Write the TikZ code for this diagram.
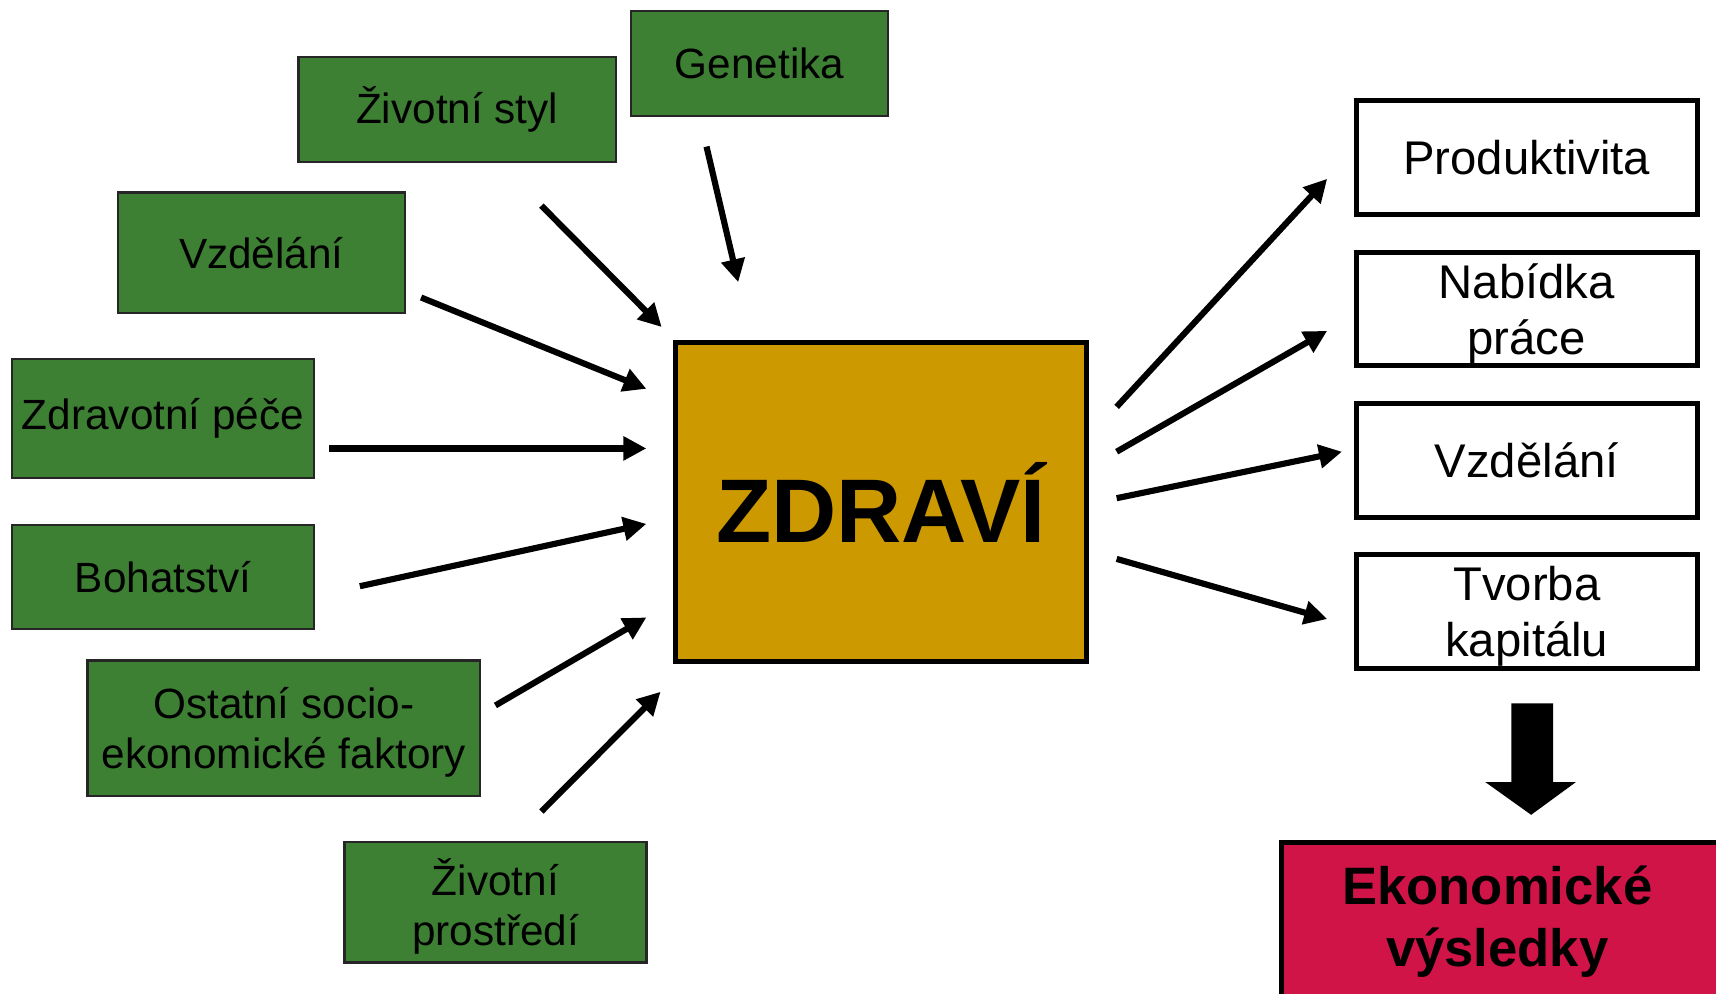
\documentclass[tikz,border=0pt]{standalone}
\usepackage{fontspec}
\setmainfont{Liberation Sans}
\usetikzlibrary{arrows.meta}

\definecolor{zelena}{RGB}{61,128,51}
\definecolor{zlata}{RGB}{204,153,0}
\definecolor{cervena}{RGB}{209,20,72}

\tikzset{
  faktor/.style={draw=black!85, line width=0.6pt, fill=zelena, inner sep=0pt, align=center, font=\fontsize{11}{13}\selectfont},
  vysledek/.style={draw, line width=1.3pt, fill=white, inner sep=0pt, minimum width=3.12cm, minimum height=1.04cm, align=center, font=\fontsize{12.3}{14.5}\selectfont},
  dvoradek/.style={text depth=0pt},
  sipka/.style={line width=1.6pt, -{Triangle[length=0.21cm,width=0.21cm]}}
}

\begin{document}
\begin{tikzpicture}[y=-1cm]
\useasboundingbox (0,0) rectangle (15.69,9.08);

\node[faktor, minimum width=2.35cm, minimum height=0.96cm] (genetika) at (6.945,0.58) {Genetika};
\node[faktor, minimum width=2.90cm, minimum height=0.96cm] (styl) at (4.18,1.00) {Životní styl};
\node[faktor, minimum width=2.62cm, minimum height=1.10cm] (vzdelani) at (2.39,2.31) {Vzdělání};
\node[faktor, minimum width=2.76cm, minimum height=1.09cm] (pece) at (1.49,3.825) {Zdravotní péče};
\node[faktor, minimum width=2.76cm, minimum height=0.95cm] (bohatstvi) at (1.49,5.275) {Bohatství};
\node[faktor, dvoradek, minimum width=3.59cm, minimum height=1.24cm] (ostatni) at (2.595,6.66) {Ostatní socio-\\ekonomické faktory};
\node[faktor, dvoradek, minimum width=2.76cm, minimum height=1.10cm] (prostredi) at (4.53,8.25) {Životní\\prostředí};

\node[draw, line width=1.3pt, fill=zlata, minimum width=3.75cm, minimum height=2.92cm, font=\fontsize{23.5}{28}\selectfont\bfseries] (zdravi) at (8.055,4.59) {ZDRAVÍ};

\node[vysledek] (produktivita) at (13.96,1.44) {Produktivita};
\node[vysledek, dvoradek] (nabidka) at (13.96,2.825) {Nabídka\\práce};
\node[vysledek] (vzdelani2) at (13.96,4.21) {Vzdělání};
\node[vysledek, dvoradek] (kapital) at (13.96,5.59) {Tvorba\\kapitálu};

\node[draw, line width=1.3pt, fill=cervena, minimum width=4.1cm, minimum height=1.45cm] (ekonomika) at (13.77,8.425) {};
\node[align=center, font=\fontsize{13.7}{16.2}\selectfont\bfseries] (ekonomikatext) at (13.69,8.43) {Ekonomické\\výsledky};

\coordinate (genetika-od) at (6.46,1.34);
\coordinate (genetika-do) at (6.75,2.58);
\coordinate (styl-od) at (4.95,1.88);
\coordinate (styl-do) at (6.05,2.99);
\coordinate (vzdelani-od) at (3.85,2.72);
\coordinate (vzdelani-do) at (5.91,3.555);
\coordinate (pece-od) at (3.01,4.10);
\coordinate (pece-do) at (5.91,4.10);
\coordinate (bohatstvi-od) at (3.29,5.36);
\coordinate (bohatstvi-do) at (5.91,4.79);
\coordinate (ostatni-od) at (4.53,6.45);
\coordinate (ostatni-do) at (5.91,5.645);
\coordinate (prostredi-od) at (4.95,7.42);
\coordinate (prostredi-do) at (6.04,6.325);

\coordinate (produktivita-od) at (10.21,3.72);
\coordinate (produktivita-do) at (12.135,1.635);
\coordinate (nabidka-od) at (10.21,4.13);
\coordinate (nabidka-do) at (12.135,3.025);
\coordinate (vzdelani2-od) at (10.21,4.555);
\coordinate (vzdelani2-do) at (12.27,4.13);
\coordinate (kapital-od) at (10.21,5.11);
\coordinate (kapital-do) at (12.135,5.66);

\draw[sipka] (genetika-od) -- (genetika-do);
\draw[sipka] (styl-od) -- (styl-do);
\draw[sipka] (vzdelani-od) -- (vzdelani-do);
\draw[sipka] (pece-od) -- (pece-do);
\draw[sipka] (bohatstvi-od) -- (bohatstvi-do);
\draw[sipka] (ostatni-od) -- (ostatni-do);
\draw[sipka] (prostredi-od) -- (prostredi-do);

\draw[sipka] (produktivita-od) -- (produktivita-do);
\draw[sipka] (nabidka-od) -- (nabidka-do);
\draw[sipka] (vzdelani2-od) -- (vzdelani2-do);
\draw[sipka] (kapital-od) -- (kapital-do);

\fill (13.82,6.43) -- (14.20,6.43) -- (14.20,7.15) -- (14.41,7.15) -- (14.00,7.45) -- (13.58,7.15) -- (13.82,7.15) -- cycle;
\end{tikzpicture}
\end{document}
